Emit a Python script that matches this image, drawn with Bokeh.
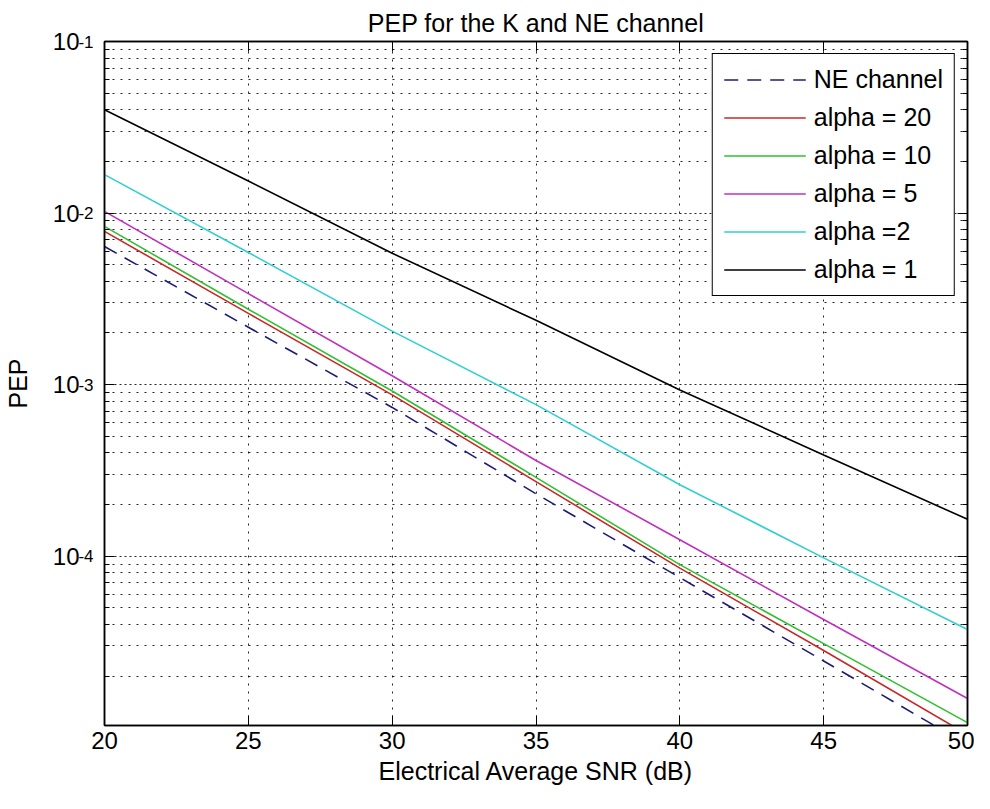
from bokeh.plotting import figure
from bokeh.models import (ColumnDataSource, FixedTicker, LinearAxis, LogAxis,
                          Range1d, Legend, LegendItem)
from bokeh.embed import file_html
from bokeh.resources import INLINE

# ---- data ----
snr_db = [20, 25, 30, 35, 40, 45, 50]
pep_ne = [6.38e-3, 2.16e-3, 7.36e-4, 2.31e-4, 7.50e-5, 2.45e-5, 7.94e-6]
pep_a20 = [7.82e-3, 2.60e-3, 8.71e-4, 2.72e-4, 8.51e-5, 2.82e-5, 9.12e-6]
pep_a10 = [8.36e-3, 2.75e-3, 9.18e-4, 2.88e-4, 8.93e-5, 3.09e-5, 1.07e-5]
pep_a5 = [1.023e-2, 3.39e-3, 1.127e-3, 3.61e-4, 1.247e-4, 4.27e-5, 1.48e-5]
pep_a2 = [1.675e-2, 5.89e-3, 2.05e-3, 7.64e-4, 2.61e-4, 9.77e-5, 3.74e-5]
pep_a1 = [4.00e-2, 1.538e-2, 5.83e-3, 2.37e-3, 9.31e-4, 3.89e-4, 1.64e-4]

series_labels = ["NE channel", "alpha = 20", "alpha = 10", "alpha = 5", "alpha =2", "alpha = 1"]
series_values = [pep_ne, pep_a20, pep_a10, pep_a5, pep_a2, pep_a1]
series_colors = ["#1c1c78", "#c82828", "#30c030", "#c030c0", "#30d0d0", "#000000"]
series_dash = ["14 9", "solid", "solid", "solid", "solid", "solid"]

x_ticks = [20, 25, 30, 35, 40, 45, 50]
y_ticks = [1e-1, 1e-2, 1e-3, 1e-4]
y_tick_base = ["10", "10", "10", "10"]
y_tick_exp = ["-1", "-2", "-3", "-4"]
y_minor = [m * 10.0 ** e for e in (-5, -4, -3, -2) for m in range(2, 10)]

FONT = "Liberation Sans"

p = figure(width=974, height=793, y_axis_type="log",
           x_range=Range1d(20, 50), y_range=Range1d(1.03e-5, 1e-1),
           output_backend="svg", toolbar_location=None,
           min_border_left=99, min_border_right=7,
           min_border_top=41, min_border_bottom=68)

p.background_fill_color = "white"
p.border_fill_color = "white"
p.outline_line_color = "black"
p.outline_line_width = 1.5
p.outline_line_alpha = 1

p.title.text = "PEP for the K and NE channel"
p.title.align = "center"
p.title.text_font = FONT
p.title.text_font_size = "25px"
p.title.text_font_style = "normal"
p.title.text_color = "black"
p.title.standoff = 10

xt = FixedTicker(ticks=x_ticks)
yt = FixedTicker(ticks=y_ticks, minor_ticks=y_minor)

# ---- x axis ----
xa = p.xaxis[0]
xa.ticker = xt
xa.axis_label = "Electrical Average SNR (dB)"
xa.major_tick_in = 10
xa.major_tick_out = 0
xa.minor_tick_in = 0
xa.minor_tick_out = 0
xa.axis_line_color = "black"
xa.axis_line_width = 1.5
xa.major_tick_line_color = "black"
xa.major_label_text_font = FONT
xa.major_label_text_font_size = "24px"
xa.major_label_text_color = "black"
xa.major_label_standoff = 6
xa.axis_label_text_font = FONT
xa.axis_label_text_font_size = "25px"
xa.axis_label_text_font_style = "normal"
xa.axis_label_text_color = "black"
xa.axis_label_standoff = 5

# ---- inner y axis: ticks + exponents ----
ya = p.yaxis[0]
ya.ticker = yt
ya.major_label_overrides = dict(zip(y_ticks, y_tick_exp))
ya.major_tick_in = 10
ya.major_tick_out = 0
ya.minor_tick_in = 5
ya.minor_tick_out = 0
ya.axis_line_color = "black"
ya.axis_line_width = 1.5
ya.major_tick_line_color = "black"
ya.minor_tick_line_color = "black"
ya.major_label_text_font = FONT
ya.major_label_text_font_size = "17px"
ya.major_label_text_color = "black"
ya.major_label_text_baseline = "bottom"
ya.major_label_standoff = 11

# ---- outer y axis: the "10" bases + axis label ----
yb = LogAxis(ticker=yt, axis_line_color=None, major_tick_line_color=None,
             minor_tick_line_color=None, major_tick_in=0, major_tick_out=0,
             minor_tick_in=0, minor_tick_out=0, major_label_standoff=-4,
             major_label_text_font=FONT, major_label_text_font_size="24px",
             major_label_text_color="black",
             axis_label="PEP", axis_label_text_font=FONT,
             axis_label_text_font_size="25px", axis_label_text_font_style="normal",
             axis_label_text_color="black", axis_label_standoff=18)
yb.major_label_overrides = dict(zip(y_ticks, y_tick_base))
p.add_layout(yb, "left")

# ---- box ticks on right and top ----
ra = LogAxis(ticker=yt, major_label_text_font_size="0px", major_label_standoff=0,
             major_tick_in=10, major_tick_out=0, minor_tick_in=5, minor_tick_out=0,
             axis_line_color="black", axis_line_width=1.5)
ra.major_label_overrides = {t: "" for t in y_ticks}
p.add_layout(ra, "right")
ta = LinearAxis(ticker=xt, major_label_text_font_size="0px", major_label_standoff=0,
                major_tick_in=10, major_tick_out=0, minor_tick_out=0, minor_tick_in=0,
                axis_line_color="black", axis_line_width=1.5)
ta.major_label_overrides = {t: "" for t in x_ticks}
p.add_layout(ta, "above")

# ---- grids ----
p.xgrid.ticker = xt
p.xgrid.grid_line_color = "black"
p.xgrid.grid_line_dash = "2 6"
p.xgrid.grid_line_width = 1
p.xgrid.grid_line_alpha = 0.85
p.ygrid.ticker = yt
p.ygrid.grid_line_color = "black"
p.ygrid.grid_line_dash = "2 3"
p.ygrid.grid_line_alpha = 0.85
p.ygrid.minor_grid_line_color = "black"
p.ygrid.minor_grid_line_dash = "2 6"
p.ygrid.minor_grid_line_alpha = 0.85

# ---- series ----
items = []
for lab, vals, col, dash in zip(series_labels, series_values, series_colors, series_dash):
    src = ColumnDataSource(dict(x=snr_db, y=vals))
    r = p.line("x", "y", source=src, line_color=col, line_width=1.6, line_dash=dash)
    items.append(LegendItem(label=lab, renderers=[r]))

legend = Legend(items=items, location="top_right",
                border_line_color="black", border_line_width=1.5, border_line_alpha=1,
                background_fill_color="white", background_fill_alpha=1,
                label_text_font=FONT, label_text_font_size="25px",
                label_text_color="black",
                glyph_width=82, glyph_height=29, label_height=29,
                spacing=9, padding=11, margin=12, label_standoff=8)
p.add_layout(legend)

open("out.html", "w").write(file_html(p, INLINE))
